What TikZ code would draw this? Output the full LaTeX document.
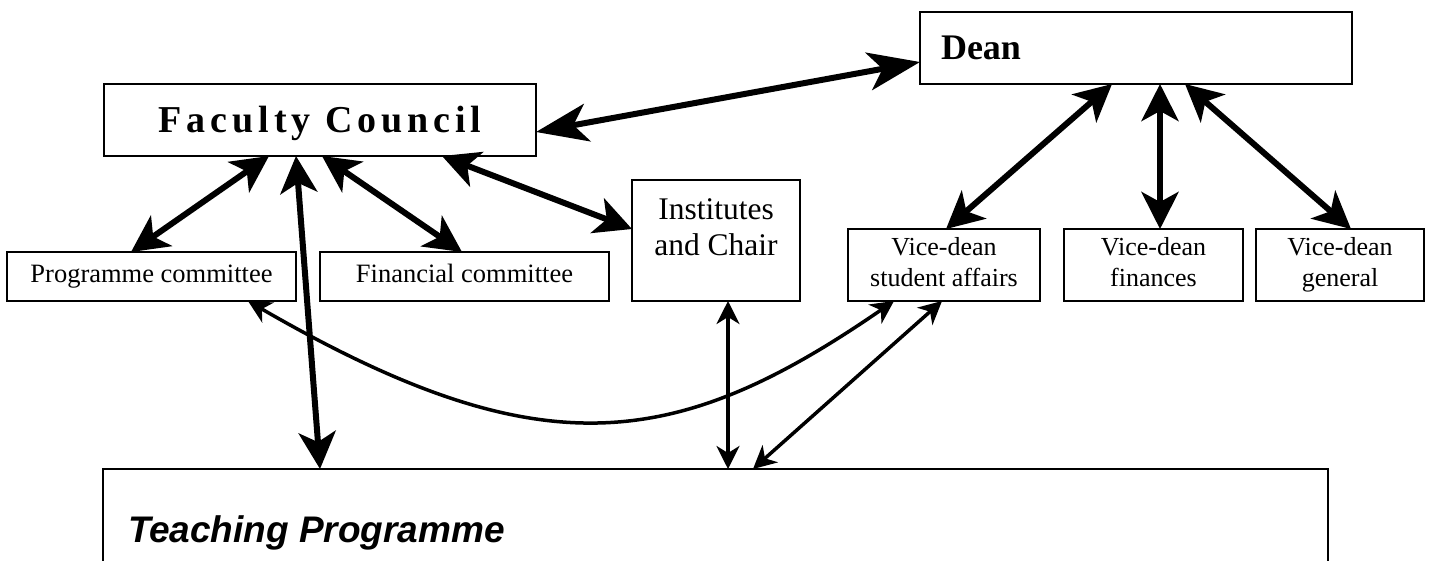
\documentclass[tikz,border=0pt]{standalone}
\usepackage{fontspec}
\setmainfont{Liberation Serif}
\newfontfamily\sansfam{Liberation Sans}
\newfontfamily\spacedfam[LetterSpace=13]{Liberation Serif}
\usetikzlibrary{arrows.meta}
\tikzset{
  box/.style={draw, line width=2pt, inner sep=0pt, outer sep=0pt, fill=white},
  txt/.style={inner sep=0pt, outer sep=0pt},
  bighead/.tip={Stealth[length=52pt,width=38pt,inset=14pt]},
  thhead/.tip={Stealth[length=37pt,width=37pt,inset=10pt]},
  tnhead/.tip={Stealth[length=23pt,width=23pt,inset=7pt]},
  bigarr/.style={line width=6pt, bighead-bighead},
  thickarr/.style={line width=6pt, thhead-thhead},
  thinarr/.style={line width=3.5pt, tnhead-tnhead},
  onebox/.style={box, text height=18pt, text depth=6pt, font=\fontsize{26.5}{30}\selectfont},
  vdbox/.style={box, align=center, text depth=6pt, font=\fontsize{26}{31}\selectfont}
}
\begin{document}
\begin{tikzpicture}[x=1pt,y=-1pt]
\useasboundingbox (0,0) rectangle (1429,560);
\clip (0,0) rectangle (1429,560);
\fill[white] (0,0) rectangle (1429,560);

% boxes
\node[box, minimum width=432pt, minimum height=72pt] (dean) at (1136,48) {};
\node[box, minimum width=432pt, minimum height=72pt] (fc) at (320,120) {};
\node[onebox, minimum width=289pt, minimum height=49pt] (pc) at (151.5,276.5) {Programme committee};
\node[onebox, minimum width=289pt, minimum height=49pt] (fin) at (464.5,276.5) {Financial committee};
\node[box, minimum width=168pt, minimum height=121pt] (inst) at (716,240.5) {};
\node[vdbox, minimum width=192pt, minimum height=72pt] (vdsa) at (944,265) {Vice-dean\\student affairs};
\node[vdbox, minimum width=179pt, minimum height=72pt] (vdf) at (1153.5,265) {Vice-dean\\finances};
\node[vdbox, minimum width=168pt, minimum height=72pt] (vdg) at (1340,265) {Vice-dean\\general};
\node[box, minimum width=1225pt, minimum height=140pt] (tp) at (715.5,539) {};

% labels
\node[txt, anchor=base west, font=\fontsize{36}{40}\selectfont\bfseries] (deanlbl) at (941,59) {Dean};
\node[txt, anchor=base, font=\fontsize{38}{42}\selectfont\spacedfam\bfseries] (fclbl) at (320,132) {Faculty Council};
\node[txt, anchor=base, font=\fontsize{31.5}{36}\selectfont] (instlbla) at (716,219) {Institutes};
\node[txt, anchor=base, font=\fontsize{31.5}{36}\selectfont] (instlblb) at (716,255) {and Chair};
\node[txt, anchor=base west, font=\fontsize{37}{40}\selectfont\sansfam\bfseries\itshape] (tplbl) at (128,542) {Teaching Programme};

% thick connectors
\draw[bigarr] ([yshift=-12pt]fc.east) -- ([yshift=-14pt]dean.west);
\draw[thickarr] ([xshift=-51pt]fc.south) -- ([xshift=-20.5pt]pc.north);
\draw[thickarr] ([xshift=-24pt]fc.south) -- ([xshift=-395.5pt]tp.north);
\draw[thickarr] ([xshift=2pt]fc.south) -- ([xshift=-2.5pt]fin.north);
\draw[thickarr] ([xshift=122pt]fc.south) -- ([yshift=11.5pt]inst.west);
\draw[thickarr] ([xshift=-24pt]dean.south) -- ([xshift=2pt]vdsa.north);
\draw[thickarr] ([xshift=24pt]dean.south) -- ([xshift=6.5pt]vdf.north);
\draw[thickarr] ([xshift=49pt]dean.south) -- ([xshift=11pt]vdg.north);

% thin connectors
\draw[thinarr] ([xshift=12pt]inst.south) -- ([xshift=12.5pt]tp.north);
\draw[thinarr] ([xshift=-2pt]vdsa.south) -- ([xshift=37.5pt]tp.north);
\draw[thinarr] ([xshift=96.5pt]pc.south) .. controls +(292,169) and +(-219,151) .. ([xshift=-50pt]vdsa.south);
\end{tikzpicture}
\end{document}
